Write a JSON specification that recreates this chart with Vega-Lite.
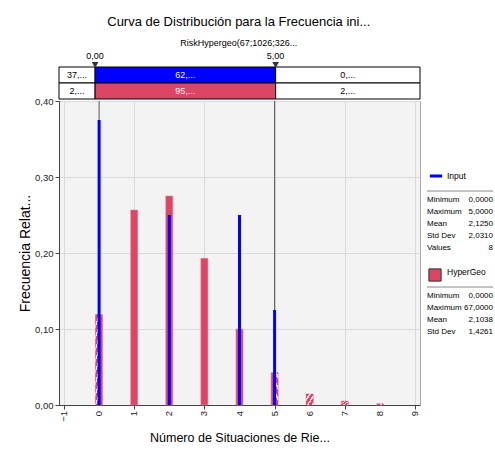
{
  "$schema": "https://vega.github.io/schema/vega-lite/v6.json",
  "padding": {"left": 18, "top": 16, "right": 2, "bottom": 5},
  "background": "white",
  "config": {
    "font": "Liberation Sans, Arial, sans-serif",
    "view": {"stroke": null}
  },
  "title": {
    "text": "Curva de Distribución para la Frecuencia ini...",
    "subtitle": "RiskHypergeo(67;1026;326...",
    "anchor": "middle", "frame": "bounds", "dx": -17,
    "font": "Liberation Sans, Arial, sans-serif", "fontSize": 13, "fontWeight": "normal", "color": "#000",
    "subtitleFont": "Liberation Sans, Arial, sans-serif", "subtitleFontSize": 9, "subtitleColor": "#000",
    "subtitlePadding": 10, "offset": 3
  },
  "datasets": {
    "dist": [
      {"k": 0, "HyperGeo": 0.119, "Input": 0.375},
      {"k": 1, "HyperGeo": 0.2565, "Input": 0},
      {"k": 2, "HyperGeo": 0.275, "Input": 0.25},
      {"k": 3, "HyperGeo": 0.193, "Input": 0},
      {"k": 4, "HyperGeo": 0.100, "Input": 0.25},
      {"k": 5, "HyperGeo": 0.0426, "Input": 0.125},
      {"k": 6, "HyperGeo": 0.0145, "Input": 0},
      {"k": 7, "HyperGeo": 0.005, "Input": 0},
      {"k": 8, "HyperGeo": 0.0015, "Input": 0}
    ],
    "ticks": [
      {"t": -1}, {"t": 0}, {"t": 1}, {"t": 2}, {"t": 3}, {"t": 4},
      {"t": 5}, {"t": 6}, {"t": 7}, {"t": 8}, {"t": 9}
    ],
    "band": [
      {"series": "Input", "zone": "left", "from": -1, "to": 0, "label": "37,..."},
      {"series": "Input", "zone": "mid", "from": 0, "to": 5, "label": "62,..."},
      {"series": "Input", "zone": "right", "from": 5, "to": 9, "label": "0,..."},
      {"series": "HyperGeo", "zone": "left", "from": -1, "to": 0, "label": "2,..."},
      {"series": "HyperGeo", "zone": "mid", "from": 0, "to": 5, "label": "95,..."},
      {"series": "HyperGeo", "zone": "right", "from": 5, "to": 9, "label": "2,..."}
    ],
    "delims": [
      {"pos": 0, "label": "0,00"},
      {"pos": 5, "label": "5,00"}
    ],
    "series": [
      {"series": "Input"},
      {"series": "HyperGeo"}
    ],
    "stats": [
      {"series": "Input", "stat": "Minimum", "value": "0,0000"},
      {"series": "Input", "stat": "Maximum", "value": "5,0000"},
      {"series": "Input", "stat": "Mean", "value": "2,1250"},
      {"series": "Input", "stat": "Std Dev", "value": "2,0310"},
      {"series": "Input", "stat": "Values", "value": "8"},
      {"series": "HyperGeo", "stat": "Minimum", "value": "0,0000"},
      {"series": "HyperGeo", "stat": "Maximum", "value": "67,0000"},
      {"series": "HyperGeo", "stat": "Mean", "value": "2,1038"},
      {"series": "HyperGeo", "stat": "Std Dev", "value": "1,4261"}
    ]
  },
  "bounds": "flush",
  "spacing": 2,
  "vconcat": [
    {
      "width": 361,
      "height": 48,
      "layer": [
        {
          "data": {"name": "band"},
          "mark": {"type": "rect", "stroke": "#000", "strokeWidth": 1},
          "encoding": {
            "x": {"field": "from", "type": "quantitative", "scale": {"domain": [-1, 9], "nice": false, "zero": false}, "axis": null},
            "x2": {"field": "to"},
            "y": {"field": "series", "type": "nominal", "scale": {"domain": ["marker", "Input", "HyperGeo"], "paddingInner": 0, "paddingOuter": 0}, "axis": null},
            "fill": {
              "condition": [
                {"test": "datum.zone === 'mid' && datum.series === 'Input'", "value": "#0000ff"},
                {"test": "datum.zone === 'mid'", "value": "#dc4665"}
              ],
              "value": "#ffffff"
            }
          }
        },
        {
          "data": {"name": "band"},
          "transform": [{"calculate": "(datum.from + datum.to) / 2", "as": "mid"}],
          "mark": {"type": "text", "fontSize": 9},
          "encoding": {
            "x": {"field": "mid", "type": "quantitative"},
            "y": {"field": "series", "type": "nominal"},
            "text": {"field": "label"},
            "color": {"condition": {"test": "datum.zone === 'mid'", "value": "#ffffff"}, "value": "#000000"}
          }
        },
        {
          "data": {"name": "delims"},
          "mark": {"type": "text", "fontSize": 9, "dy": -3, "color": "#000"},
          "encoding": {
            "x": {"field": "pos", "type": "quantitative"},
            "y": {"datum": "marker", "type": "nominal"},
            "text": {"field": "label"}
          }
        },
        {
          "data": {"name": "delims"},
          "mark": {"type": "point", "shape": "triangle-down", "filled": true, "color": "#333", "size": 45, "yOffset": 6, "opacity": 1},
          "encoding": {
            "x": {"field": "pos", "type": "quantitative"},
            "y": {"datum": "marker", "type": "nominal"}
          }
        }
      ]
    },
    {
      "bounds": "flush",
      "spacing": 7,
      "hconcat": [
        {
          "width": 361,
          "height": 304,
          "view": {"fill": "#f3f3f3", "stroke": "#aaaaaa"},
          "layer": [
            {
              "data": {"name": "dist"},
              "transform": [
                {"calculate": "datum.k - 0.1", "as": "x0"},
                {"calculate": "datum.k + 0.1", "as": "x1"}
              ],
              "mark": {"type": "rect", "fill": "#dc4665", "stroke": "#e77d95", "strokeWidth": 0.6},
              "encoding": {
                "x": {
                  "field": "x0", "type": "quantitative",
                  "scale": {"domain": [-1, 9], "nice": false, "zero": false},
                  "title": "Número de Situaciones de Rie...",
                  "axis": {
                    "values": [-1, 0, 1, 2, 3, 4, 5, 6, 7, 8, 9],
                    "labels": false,
                    "tickSize": 4, "tickColor": "#444", "domainColor": "#444",
                    "grid": true, "gridColor": "#dadada",
                    "titleFontSize": 12.5, "titleFontWeight": "normal", "titleColor": "#000", "titlePadding": 22
                  }
                },
                "x2": {"field": "x1"},
                "y": {
                  "field": "HyperGeo", "type": "quantitative",
                  "scale": {"domain": [0, 0.4], "nice": false},
                  "title": "Frecuencia Relat...",
                  "axis": {
                    "values": [0, 0.05, 0.1, 0.15, 0.2, 0.25, 0.3, 0.35, 0.4],
                    "labelExpr": "replace(format(datum.value, '.2f'), '.', ',')",
                    "labelFontSize": 9.5, "labelColor": "#222", "labelPadding": 2,
                    "labelOverlap": false,
                    "tickSize": 4, "tickColor": "#444", "domainColor": "#444",
                    "grid": true, "gridColor": "#dadada",
                    "titleFontSize": 14, "titleFontWeight": "normal", "titleColor": "#000", "titlePadding": 2
                  }
                },
                "y2": {"datum": 0}
              }
            },
            {
              "data": {"name": "ticks"},
              "mark": {"type": "text", "angle": 270, "align": "right", "baseline": "middle", "dx": -6, "fontSize": 9.5, "color": "#222"},
              "encoding": {
                "x": {"field": "t", "type": "quantitative"},
                "y": {"datum": 0, "type": "quantitative"},
                "text": {"field": "t", "type": "quantitative", "format": "d"}
              }
            },
            {
              "data": {"name": "dist"},
              "transform": [
                {"filter": "datum.k === 0"},
                {"calculate": "datum.k - 0.1", "as": "x0"},
                {"calculate": "datum.k", "as": "x1"}
              ],
              "mark": {
                "type": "rect",
                "fill": {
                  "gradient": "linear", "x1": 0, "y1": 0, "x2": 1, "y2": 1,
                  "stops": [
                    {"offset": 0, "color": "#dc4665"}, {"offset": 0.04, "color": "#dc4665"}, {"offset": 0.04, "color": "#fbe3e9"}, {"offset": 0.0625, "color": "#fbe3e9"},
                    {"offset": 0.0625, "color": "#dc4665"}, {"offset": 0.1025, "color": "#dc4665"}, {"offset": 0.1025, "color": "#fbe3e9"}, {"offset": 0.125, "color": "#fbe3e9"},
                    {"offset": 0.125, "color": "#dc4665"}, {"offset": 0.165, "color": "#dc4665"}, {"offset": 0.165, "color": "#fbe3e9"}, {"offset": 0.1875, "color": "#fbe3e9"},
                    {"offset": 0.1875, "color": "#dc4665"}, {"offset": 0.2275, "color": "#dc4665"}, {"offset": 0.2275, "color": "#fbe3e9"}, {"offset": 0.25, "color": "#fbe3e9"},
                    {"offset": 0.25, "color": "#dc4665"}, {"offset": 0.29, "color": "#dc4665"}, {"offset": 0.29, "color": "#fbe3e9"}, {"offset": 0.3125, "color": "#fbe3e9"},
                    {"offset": 0.3125, "color": "#dc4665"}, {"offset": 0.3525, "color": "#dc4665"}, {"offset": 0.3525, "color": "#fbe3e9"}, {"offset": 0.375, "color": "#fbe3e9"},
                    {"offset": 0.375, "color": "#dc4665"}, {"offset": 0.415, "color": "#dc4665"}, {"offset": 0.415, "color": "#fbe3e9"}, {"offset": 0.4375, "color": "#fbe3e9"},
                    {"offset": 0.4375, "color": "#dc4665"}, {"offset": 0.4775, "color": "#dc4665"}, {"offset": 0.4775, "color": "#fbe3e9"}, {"offset": 0.5, "color": "#fbe3e9"},
                    {"offset": 0.5, "color": "#dc4665"}, {"offset": 0.54, "color": "#dc4665"}, {"offset": 0.54, "color": "#fbe3e9"}, {"offset": 0.5625, "color": "#fbe3e9"},
                    {"offset": 0.5625, "color": "#dc4665"}, {"offset": 0.6025, "color": "#dc4665"}, {"offset": 0.6025, "color": "#fbe3e9"}, {"offset": 0.625, "color": "#fbe3e9"},
                    {"offset": 0.625, "color": "#dc4665"}, {"offset": 0.665, "color": "#dc4665"}, {"offset": 0.665, "color": "#fbe3e9"}, {"offset": 0.6875, "color": "#fbe3e9"},
                    {"offset": 0.6875, "color": "#dc4665"}, {"offset": 0.7275, "color": "#dc4665"}, {"offset": 0.7275, "color": "#fbe3e9"}, {"offset": 0.75, "color": "#fbe3e9"},
                    {"offset": 0.75, "color": "#dc4665"}, {"offset": 0.79, "color": "#dc4665"}, {"offset": 0.79, "color": "#fbe3e9"}, {"offset": 0.8125, "color": "#fbe3e9"},
                    {"offset": 0.8125, "color": "#dc4665"}, {"offset": 0.8525, "color": "#dc4665"}, {"offset": 0.8525, "color": "#fbe3e9"}, {"offset": 0.875, "color": "#fbe3e9"},
                    {"offset": 0.875, "color": "#dc4665"}, {"offset": 0.915, "color": "#dc4665"}, {"offset": 0.915, "color": "#fbe3e9"}, {"offset": 0.9375, "color": "#fbe3e9"},
                    {"offset": 0.9375, "color": "#dc4665"}, {"offset": 0.9775, "color": "#dc4665"}, {"offset": 0.9775, "color": "#fbe3e9"}, {"offset": 1, "color": "#fbe3e9"}
                  ]
                }
              },
              "encoding": {
                "x": {"field": "x0", "type": "quantitative"},
                "x2": {"field": "x1"},
                "y": {"field": "HyperGeo", "type": "quantitative"},
                "y2": {"datum": 0}
              }
            },
            {
              "data": {"name": "dist"},
              "transform": [
                {"filter": "datum.k === 5"},
                {"calculate": "datum.k", "as": "x0"},
                {"calculate": "datum.k + 0.1", "as": "x1"}
              ],
              "mark": {
                "type": "rect",
                "fill": {
                  "gradient": "linear", "x1": 0, "y1": 0, "x2": 1, "y2": 1,
                  "stops": [
                    {"offset": 0, "color": "#dc4665"}, {"offset": 0.1, "color": "#dc4665"}, {"offset": 0.1, "color": "#fbe3e9"}, {"offset": 0.1667, "color": "#fbe3e9"},
                    {"offset": 0.1667, "color": "#dc4665"}, {"offset": 0.2667, "color": "#dc4665"}, {"offset": 0.2667, "color": "#fbe3e9"}, {"offset": 0.3333, "color": "#fbe3e9"},
                    {"offset": 0.3333, "color": "#dc4665"}, {"offset": 0.4333, "color": "#dc4665"}, {"offset": 0.4333, "color": "#fbe3e9"}, {"offset": 0.5, "color": "#fbe3e9"},
                    {"offset": 0.5, "color": "#dc4665"}, {"offset": 0.6, "color": "#dc4665"}, {"offset": 0.6, "color": "#fbe3e9"}, {"offset": 0.6667, "color": "#fbe3e9"},
                    {"offset": 0.6667, "color": "#dc4665"}, {"offset": 0.7667, "color": "#dc4665"}, {"offset": 0.7667, "color": "#fbe3e9"}, {"offset": 0.8333, "color": "#fbe3e9"},
                    {"offset": 0.8333, "color": "#dc4665"}, {"offset": 0.9333, "color": "#dc4665"}, {"offset": 0.9333, "color": "#fbe3e9"}, {"offset": 1, "color": "#fbe3e9"}
                  ]
                }
              },
              "encoding": {
                "x": {"field": "x0", "type": "quantitative"},
                "x2": {"field": "x1"},
                "y": {"field": "HyperGeo", "type": "quantitative"},
                "y2": {"datum": 0}
              }
            },
            {
              "data": {"name": "dist"},
              "transform": [
                {"filter": "datum.k >= 6"},
                {"calculate": "datum.k - 0.1", "as": "x0"},
                {"calculate": "datum.k + 0.1", "as": "x1"}
              ],
              "mark": {
                "type": "rect",
                "fill": {
                  "gradient": "linear", "x1": 0, "y1": 0, "x2": 1, "y2": 1,
                  "stops": [
                    {"offset": 0, "color": "#dc4665"}, {"offset": 0.2, "color": "#dc4665"}, {"offset": 0.2, "color": "#fbe3e9"}, {"offset": 0.3333, "color": "#fbe3e9"},
                    {"offset": 0.3333, "color": "#dc4665"}, {"offset": 0.5333, "color": "#dc4665"}, {"offset": 0.5333, "color": "#fbe3e9"}, {"offset": 0.6667, "color": "#fbe3e9"},
                    {"offset": 0.6667, "color": "#dc4665"}, {"offset": 0.8667, "color": "#dc4665"}, {"offset": 0.8667, "color": "#fbe3e9"}, {"offset": 1, "color": "#fbe3e9"}
                  ]
                }
              },
              "encoding": {
                "x": {"field": "x0", "type": "quantitative"},
                "x2": {"field": "x1"},
                "y": {"field": "HyperGeo", "type": "quantitative"},
                "y2": {"datum": 0}
              }
            },
            {
              "data": {"name": "delims"},
              "mark": {"type": "rule", "color": "#555555", "strokeWidth": 1},
              "encoding": {
                "x": {"field": "pos", "type": "quantitative"}
              }
            },
            {
              "data": {"name": "dist"},
              "transform": [{"filter": "datum.Input > 0"}],
              "mark": {"type": "bar", "size": 3, "color": "#0000ff"},
              "encoding": {
                "x": {"field": "k", "type": "quantitative"},
                "y": {"field": "Input", "type": "quantitative"}
              }
            }
          ]
        },
        {
          "width": 66,
          "height": 304,
          "layer": [
            {
              "data": {"name": "stats"},
              "transform": [
                {"calculate": "datum.series + '|' + datum.stat", "as": "key"},
                {"calculate": "indexof(['Input|head', 's1', 'Input|Minimum', 'Input|Maximum', 'Input|Mean', 'Input|Std Dev', 'Input|Values', 's2', 'HyperGeo|head', 's3', 'HyperGeo|Minimum', 'HyperGeo|Maximum', 'HyperGeo|Mean', 'HyperGeo|Std Dev'], datum.key)", "as": "slot"}
              ],
              "mark": {"type": "text", "align": "left", "fontSize": 8, "color": "#000"},
              "encoding": {
                "x": {"datum": 0, "type": "quantitative", "scale": {"domain": [0, 1], "nice": false, "zero": false}, "axis": null},
                "y": {"field": "slot", "type": "quantitative", "axis": null, "scale": {"domain": [-6.25, 19.083], "reverse": true, "nice": false, "zero": false}},
                "text": {"field": "stat"}
              }
            },
            {
              "data": {"name": "stats"},
              "transform": [
                {"calculate": "datum.series + '|' + datum.stat", "as": "key"},
                {"calculate": "indexof(['Input|head', 's1', 'Input|Minimum', 'Input|Maximum', 'Input|Mean', 'Input|Std Dev', 'Input|Values', 's2', 'HyperGeo|head', 's3', 'HyperGeo|Minimum', 'HyperGeo|Maximum', 'HyperGeo|Mean', 'HyperGeo|Std Dev'], datum.key)", "as": "slot"}
              ],
              "mark": {"type": "text", "align": "right", "fontSize": 8, "color": "#000"},
              "encoding": {
                "x": {"datum": 1, "type": "quantitative"},
                "y": {"field": "slot", "type": "quantitative"},
                "text": {"field": "value"}
              }
            },
            {
              "data": {"name": "series"},
              "transform": [
                {"calculate": "datum.series + '|head'", "as": "key"},
                {"calculate": "indexof(['Input|head', 's1', 'Input|Minimum', 'Input|Maximum', 'Input|Mean', 'Input|Std Dev', 'Input|Values', 's2', 'HyperGeo|head', 's3', 'HyperGeo|Minimum', 'HyperGeo|Maximum', 'HyperGeo|Mean', 'HyperGeo|Std Dev'], datum.key)", "as": "slot"}
              ],
              "mark": {"type": "text", "align": "left", "fontSize": 8.5, "dx": 20, "color": "#000"},
              "encoding": {
                "x": {"datum": 0, "type": "quantitative"},
                "y": {"field": "slot", "type": "quantitative"},
                "text": {"field": "series"}
              }
            },
            {
              "data": {"name": "series"},
              "transform": [
                {"filter": "datum.series === 'Input'"},
                {"calculate": "datum.series + '|head'", "as": "key"},
                {"calculate": "indexof(['Input|head', 's1', 'Input|Minimum', 'Input|Maximum', 'Input|Mean', 'Input|Std Dev', 'Input|Values', 's2', 'HyperGeo|head', 's3', 'HyperGeo|Minimum', 'HyperGeo|Maximum', 'HyperGeo|Mean', 'HyperGeo|Std Dev'], datum.key)", "as": "slot"}
              ],
              "mark": {"type": "point", "shape": "stroke", "strokeWidth": 3, "color": "#0000ff", "size": 150, "xOffset": 9, "opacity": 1},
              "encoding": {
                "x": {"datum": 0, "type": "quantitative"},
                "y": {"field": "slot", "type": "quantitative"}
              }
            },
            {
              "data": {"name": "series"},
              "transform": [
                {"filter": "datum.series === 'HyperGeo'"},
                {"calculate": "datum.series + '|head'", "as": "key"},
                {"calculate": "indexof(['Input|head', 's1', 'Input|Minimum', 'Input|Maximum', 'Input|Mean', 'Input|Std Dev', 'Input|Values', 's2', 'HyperGeo|head', 's3', 'HyperGeo|Minimum', 'HyperGeo|Maximum', 'HyperGeo|Mean', 'HyperGeo|Std Dev'], datum.key)", "as": "slot"}
              ],
              "mark": {"type": "point", "shape": "square", "filled": true, "fill": "#dc4665", "stroke": "#333", "strokeWidth": 1, "size": 150, "xOffset": 8, "yOffset": 3, "opacity": 1},
              "encoding": {
                "x": {"datum": 0, "type": "quantitative"},
                "y": {"field": "slot", "type": "quantitative"}
              }
            },
            {
              "data": {"name": "series"},
              "transform": [
                {"calculate": "datum.series === 'Input' ? 's1' : 's3'", "as": "key"},
                {"calculate": "indexof(['Input|head', 's1', 'Input|Minimum', 'Input|Maximum', 'Input|Mean', 'Input|Std Dev', 'Input|Values', 's2', 'HyperGeo|head', 's3', 'HyperGeo|Minimum', 'HyperGeo|Maximum', 'HyperGeo|Mean', 'HyperGeo|Std Dev'], datum.key)", "as": "slot"}
              ],
              "mark": {"type": "rule", "color": "#888888", "strokeWidth": 1, "yOffset": 3},
              "encoding": {
                "y": {"field": "slot", "type": "quantitative"}
              }
            }
          ]
        }
      ]
    }
  ]
}
